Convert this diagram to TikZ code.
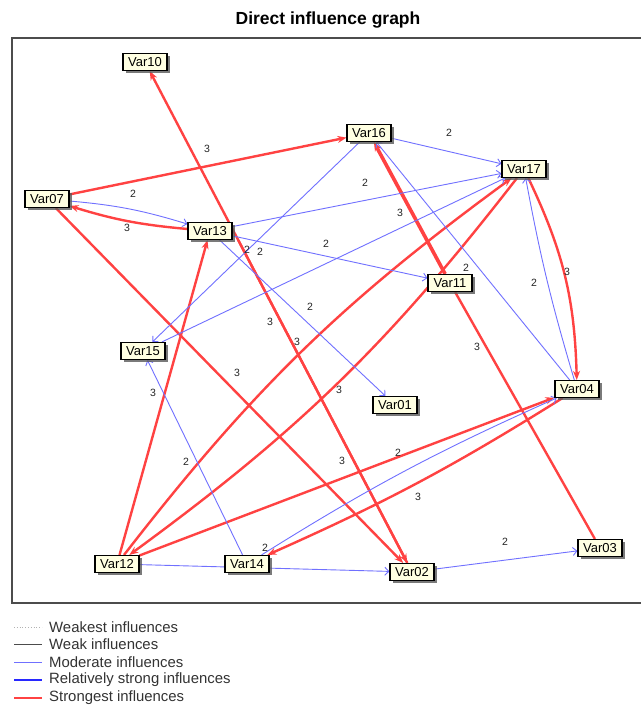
\documentclass[tikz,border=0pt]{standalone}
\usepackage{fontspec}
\setmainfont{Liberation Sans}
\usetikzlibrary{arrows.meta,shadows,calc}
\pgfdeclarelayer{bg}
\pgfdeclarelayer{edges}
\pgfsetlayers{bg,edges,main}
\definecolor{sred}{RGB}{255,66,66}
\definecolor{mblue}{RGB}{112,112,255}
\definecolor{rblue}{RGB}{40,40,255}
\definecolor{cream}{RGB}{255,255,226}
\begin{document}
\begin{tikzpicture}[x=1pt,y=-1pt,
 var/.style={draw=black, line width=1.1pt, fill=cream, minimum width=44pt, minimum height=17pt, inner sep=0pt,
   font=\fontsize{13}{13}\selectfont,
   drop shadow={shadow xshift=2.5pt, shadow yshift=-2.5pt, fill=black!65, opacity=0.8}},
 strong/.style={sred, line width=2.4pt, -{Stealth[length=9pt,width=7pt]}},
 plainred/.style={sred, line width=2.4pt},
 moder/.style={mblue, line width=0.9pt, -{Straight Barb[length=4pt,width=8pt]}},
 lab/.style={font=\fontsize{10.5}{10.5}\selectfont, text=black!85, inner sep=0pt},
 legtext/.style={anchor=west, font=\fontsize{14.9}{14.9}\selectfont, text=black!80, inner sep=0pt}
]
\useasboundingbox (0,0) rectangle (640,706);
\begin{pgfonlayer}{bg}
\fill[white] (0,0) rectangle (640,706);
\end{pgfonlayer}

\node[font=\bfseries\fontsize{17.5}{17.5}\selectfont] (title) at (328,20) {Direct influence graph};
\coordinate (f1) at (12,38);
\coordinate (f2) at (660,603);
\draw[black!70, line width=1.3pt] (f1) rectangle (f2);

% nodes
\node[var] (Var10) at (145,62) {Var10};
\node[var] (Var16) at (369,133) {Var16};
\node[var] (Var17) at (524,169) {Var17};
\node[var] (Var07) at (47,199) {Var07};
\node[var] (Var13) at (210,231) {Var13};
\node[var] (Var11) at (450,283) {Var11};
\node[var] (Var15) at (143,351) {Var15};
\node[var] (Var01) at (395,405) {Var01};
\node[var] (Var04) at (577,389) {Var04};
\node[var] (Var03) at (600,548) {Var03};
\node[var] (Var12) at (117,564) {Var12};
\node[var] (Var14) at (247,564) {Var14};
\node[var] (Var02) at (412,572) {Var02};

\coordinate (c13) at ($(Var10)!0.35!(Var02)$);

\begin{pgfonlayer}{edges}
% strongest influences
\draw[strong] (Var07) -- (Var16);
\draw[strong] (Var13) to[bend left=6] (Var07);
\draw[strong] (Var07) -- (Var02);
\draw[strong] (Var02) -- (Var10);
\draw[strong] (c13) -- (Var02);
\draw[strong] (Var12) -- (Var13);
\draw[strong] (Var12) to[bend left=8] (Var17);
\draw[strong] (Var17) to[bend left=8] (Var12);
\draw[strong, line width=3.6pt] (Var11) -- (Var16);
\draw[plainred] (Var11) -- (Var03);
\draw[strong] (Var17) to[bend left=12] (Var04);
\draw[strong] (Var12) -- (Var04);
\draw[strong] (Var04) to[bend left=4] (Var14);
% moderate influences
\draw[moder] (Var07) to[bend left=6] (Var13);
\draw[moder] (Var04) to[bend left=3] (Var17);
\draw[moder] (Var14) to[bend left=4] (Var04);
\draw[moder] (Var16) -- (Var17);
\draw[moder] (Var16) -- (Var15);
\draw[moder] (Var13) -- (Var17);
\draw[moder] (Var15) -- (Var17);
\draw[moder] (Var13) -- (Var11);
\draw[moder] (Var13) -- (Var01);
\draw[moder] (Var04) -- (Var16);
\draw[moder] (Var14) -- (Var15);
\draw[moder] (Var12) -- (Var02);
\draw[moder] (Var02) -- (Var03);
\end{pgfonlayer}

% edge labels
\node[lab] (b1) at (133,194) {2};
\node[lab] (b2) at (449,133) {2};
\node[lab] (b3) at (365,183) {2};
\node[lab] (b4) at (247,250) {2};
\node[lab] (b5) at (260,252) {2};
\node[lab] (b6) at (326,244) {2};
\node[lab] (b7) at (310,307) {2};
\node[lab] (b8) at (466,268) {2};
\node[lab] (b9) at (534,283) {2};
\node[lab] (b10) at (186,462) {2};
\node[lab] (b11) at (398,453) {2};
\node[lab] (b12) at (265,548) {2};
\node[lab] (b13) at (505,542) {2};
\node[lab] (r1) at (207,149) {3};
\node[lab] (r2) at (127,228) {3};
\node[lab] (r3) at (400,213) {3};
\node[lab] (r4) at (270,322) {3};
\node[lab] (r5) at (297,342) {3};
\node[lab] (r6) at (237,373) {3};
\node[lab] (r7) at (339,390) {3};
\node[lab] (r8) at (153,393) {3};
\node[lab] (r9) at (477,347) {3};
\node[lab] (r10) at (567,272) {3};
\node[lab] (r11) at (342,461) {3};
\node[lab] (r12) at (418,497) {3};

% legend
\coordinate (k1a) at (14,627); \coordinate (k1b) at (42,627);
\coordinate (k2a) at (14,644); \coordinate (k2b) at (42,644);
\coordinate (k3a) at (14,662); \coordinate (k3b) at (42,662);
\coordinate (k4a) at (14,680); \coordinate (k4b) at (42,680);
\coordinate (k5a) at (14,698); \coordinate (k5b) at (42,698);
\draw[black!30, line width=0.8pt, dotted] (k1a) -- (k1b);
\draw[black!70, line width=0.8pt] (k2a) -- (k2b);
\draw[mblue, line width=0.9pt] (k3a) -- (k3b);
\draw[rblue, line width=1.8pt] (k4a) -- (k4b);
\draw[sred, line width=2.6pt] (k5a) -- (k5b);
\node[legtext] (t1) at (49,627) {Weakest influences};
\node[legtext] (t2) at (49,644) {Weak influences};
\node[legtext] (t3) at (49,662) {Moderate influences};
\node[legtext] (t4) at (49,680) {Relatively strong influences};
\node[legtext] (t5) at (49,698) {Strongest influences};
\end{tikzpicture}
\end{document}
